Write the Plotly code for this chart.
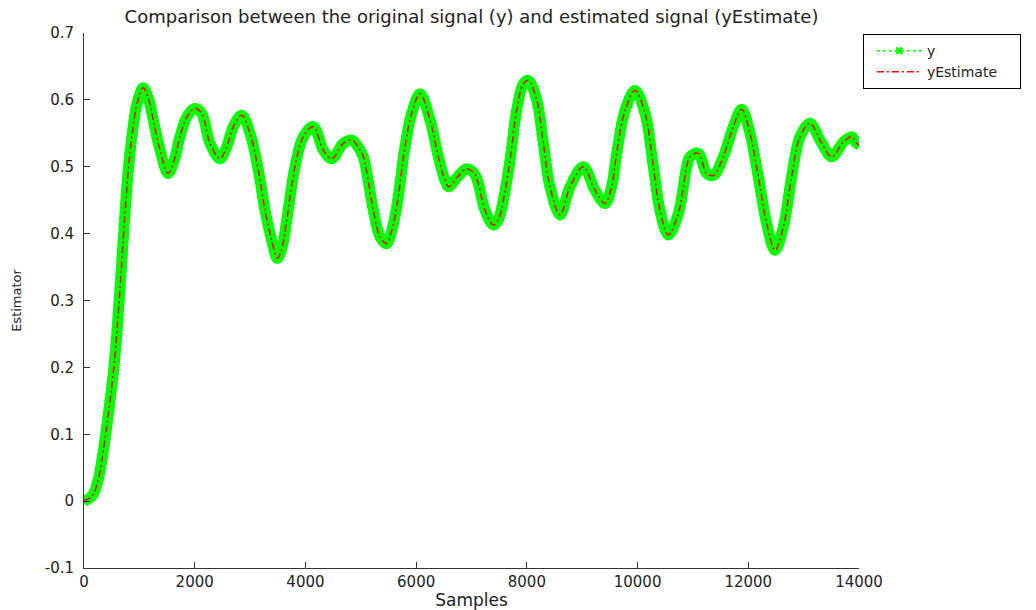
import plotly.graph_objects as go

# Sample index and signal values
samples = [
    0, 150, 250, 330, 400, 470, 540, 610, 680, 740, 800, 880, 960, 1070,
    1170, 1252, 1373, 1520, 1630, 1734, 1860, 2005, 2126, 2276, 2457, 2580,
    2697, 2849, 2999, 3149, 3270, 3391, 3493, 3580, 3662, 3812, 3962, 4143,
    4323, 4474, 4685, 4836, 4950, 5046, 5100, 5227, 5350, 5468, 5560, 5649,
    5799, 5920, 6070, 6251, 6401, 6520, 6590, 6750, 6913, 7050, 7123, 7244,
    7394, 7480, 7575, 7696, 7817, 7936, 8027, 8178, 8298, 8418, 8599, 8780,
    9020, 9231, 9412, 9530, 9623, 9773, 9954, 10135, 10285, 10405, 10556,
    10736, 10887, 10947, 11097, 11249, 11369, 11549, 11730, 11881, 12031,
    12181, 12332, 12483, 12633, 12784, 12935, 13115, 13296, 13507, 13717,
    13868, 13958, 14000,
]
y_signal = [
    0.0, 0.008, 0.03, 0.065, 0.105, 0.15, 0.2, 0.27, 0.355, 0.43, 0.495,
    0.555, 0.595, 0.618, 0.6, 0.57, 0.525, 0.49, 0.51, 0.545, 0.575, 0.587,
    0.58, 0.535, 0.512, 0.53, 0.56, 0.577, 0.55, 0.495, 0.435, 0.39, 0.363,
    0.38, 0.42, 0.5, 0.545, 0.56, 0.525, 0.512, 0.535, 0.54, 0.53, 0.515,
    0.495, 0.435, 0.395, 0.385, 0.405, 0.44, 0.53, 0.58, 0.609, 0.57, 0.515,
    0.48, 0.47, 0.485, 0.497, 0.49, 0.475, 0.435, 0.413, 0.42, 0.45, 0.51,
    0.585, 0.624, 0.629, 0.6, 0.535, 0.47, 0.428, 0.47, 0.5, 0.465, 0.445,
    0.47, 0.52, 0.584, 0.614, 0.58, 0.5, 0.435, 0.398, 0.43, 0.5, 0.515,
    0.52, 0.49, 0.487, 0.515, 0.56, 0.586, 0.55, 0.485, 0.415, 0.375, 0.41,
    0.485, 0.545, 0.565, 0.54, 0.515, 0.537, 0.545, 0.535, 0.533,
]
y_estimate = [
    0.0, 0.008, 0.03, 0.065, 0.105, 0.15, 0.2, 0.27, 0.355, 0.43, 0.495,
    0.555, 0.595, 0.618, 0.6, 0.57, 0.525, 0.49, 0.51, 0.545, 0.575, 0.587,
    0.58, 0.535, 0.512, 0.53, 0.56, 0.577, 0.55, 0.495, 0.435, 0.39, 0.363,
    0.38, 0.42, 0.5, 0.545, 0.56, 0.525, 0.512, 0.535, 0.54, 0.53, 0.515,
    0.495, 0.435, 0.395, 0.385, 0.405, 0.44, 0.53, 0.58, 0.609, 0.57, 0.515,
    0.48, 0.47, 0.485, 0.497, 0.49, 0.475, 0.435, 0.413, 0.42, 0.45, 0.51,
    0.585, 0.624, 0.629, 0.6, 0.535, 0.47, 0.428, 0.47, 0.5, 0.465, 0.445,
    0.47, 0.52, 0.584, 0.614, 0.58, 0.5, 0.435, 0.398, 0.43, 0.5, 0.515,
    0.52, 0.49, 0.487, 0.515, 0.56, 0.586, 0.55, 0.485, 0.415, 0.375, 0.41,
    0.485, 0.545, 0.565, 0.54, 0.515, 0.537, 0.545, 0.535, 0.533,
]

x_ticks = [0, 2000, 4000, 6000, 8000, 10000, 12000, 14000]
x_tick_text = ["0", "2000", "4000", "6000", "8000", "10000", "12000", "14000"]
y_ticks = [-0.1, 0, 0.1, 0.2, 0.3, 0.4, 0.5, 0.6, 0.7]
y_tick_text = ["-0.1", "0", "0.1", "0.2", "0.3", "0.4", "0.5", "0.6", "0.7"]

GREEN = "#00ff00"
RED = "#ff0000"
FONT = "DejaVu Sans"
INK = "#222222"
PAD = "\u00a0" * 4  # widens the legend box to the right

fig = go.Figure()

# dense 'x' markers of the measured signal form a thick green band
fig.add_trace(go.Scatter(
    x=samples, y=y_signal, mode="lines",
    line=dict(color=GREEN, width=11, shape="spline"),
    showlegend=False, hoverinfo="skip",
))
fig.add_trace(go.Scatter(
    x=samples, y=y_signal, mode="lines+markers", name="y",
    line=dict(color=GREEN, width=1.5, dash="dot", shape="spline"),
    marker=dict(symbol="x", size=7, color=GREEN),
))
fig.add_trace(go.Scatter(
    x=samples, y=y_estimate, mode="lines", name="yEstimate" + PAD,
    line=dict(color=RED, width=1.5, dash="7px,3px,2px,3px", shape="spline"),
))

axis_common = dict(
    showgrid=False, zeroline=False, showline=True, linecolor="#333333",
    linewidth=1, mirror=False, ticks="inside", ticklen=6, tickcolor="#333333",
    tickfont=dict(family=FONT, size=15, color=INK), automargin=False,
)

fig.update_layout(
    width=1036, height=610,
    margin=dict(l=84, r=177, t=33, b=42),
    paper_bgcolor="white", plot_bgcolor="white",
    title=dict(
        text="Comparison between the original signal (y) and estimated signal (yEstimate)",
        x=(84 + 859) / 2 / 1036, xanchor="center", y=1 - 17 / 610, yanchor="middle",
        font=dict(family=FONT, size=18, color=INK),
    ),
    xaxis=dict(
        range=[0, 14000], tickvals=x_ticks, ticktext=x_tick_text,
        ticklabelstandoff=0,
        title=dict(text="Samples", standoff=4,
                   font=dict(family=FONT, size=17, color=INK)),
        **axis_common,
    ),
    yaxis=dict(
        range=[-0.1, 0.7], tickvals=y_ticks, ticktext=y_tick_text,
        ticklabelstandoff=6,
        title=dict(text="Estimator", standoff=20,
                   font=dict(family=FONT, size=13, color=INK)),
        **axis_common,
    ),
    legend=dict(
        x=1.005, xanchor="left", y=0.998, yanchor="top",
        bgcolor="white", bordercolor="#000000", borderwidth=1,
        font=dict(family=FONT, size=14, color=INK),
        itemwidth=45, indentation=8, tracegroupgap=0,
    ),
    showlegend=True,
)

fig.write_html("out.html")
